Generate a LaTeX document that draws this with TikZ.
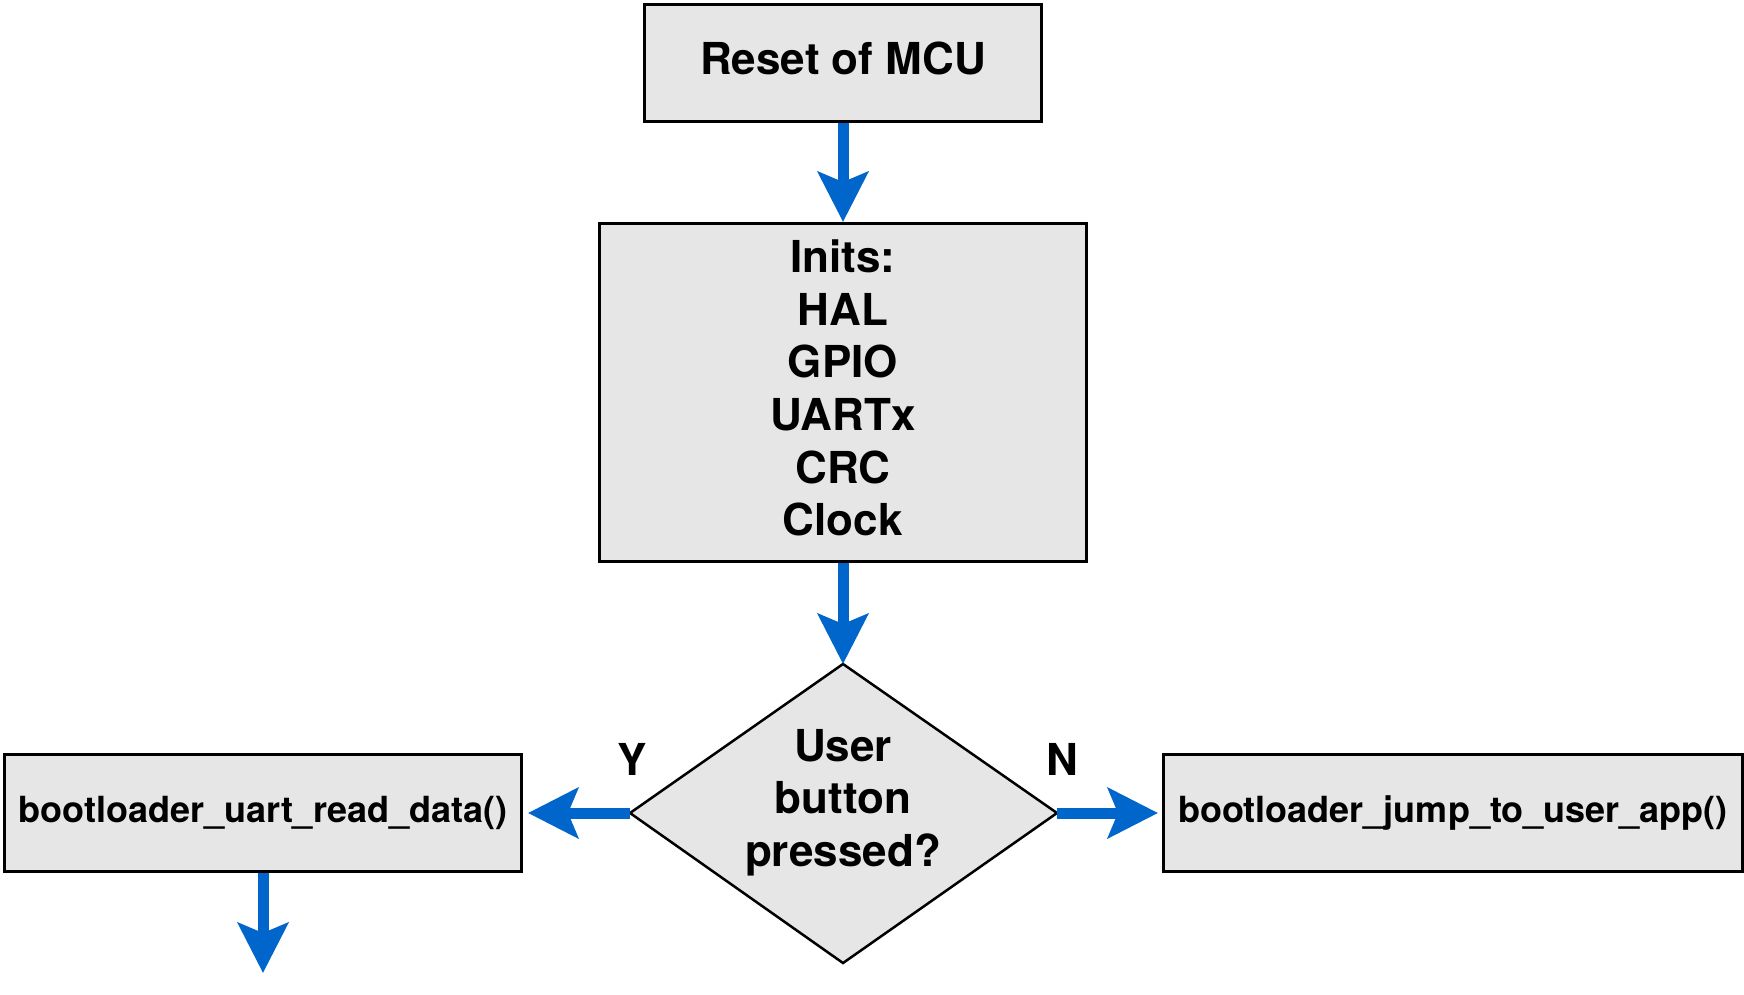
\documentclass[tikz,border=0pt]{standalone}
\usepackage{fontspec}
\setmainfont{TeX Gyre Heros}
\usetikzlibrary{arrows.meta}
\definecolor{arrowblue}{HTML}{0066CC}
\definecolor{boxgray}{HTML}{E6E6E6}
\begin{document}
\begin{tikzpicture}[x=1pt,y=-1pt,
  box/.style={draw=black, line width=3pt, fill=boxgray, inner sep=0pt},
  lbl/.style={inner sep=0pt, align=center, font=\bfseries\fontsize{44}{52.6}\selectfont},
  fnlbl/.style={inner sep=0pt, align=center, font=\bfseries\fontsize{36}{43}\selectfont},
  flow/.style={draw=arrowblue, line width=11pt, -{Stealth[length=50pt,width=50pt,inset=10pt]}}]
\useasboundingbox (0,0) rectangle (1744,994);
\node[box, minimum width=397pt, minimum height=117pt] (reset) at (843,63) {};
\node[lbl] (resettext) at (843,58.5) {Reset of MCU};
\node[box, minimum width=487pt, minimum height=338pt] (inits) at (843,392.5) {};
\node[lbl] (initstext) at (843,388) {Inits:\\HAL\\GPIO\\UARTx\\CRC\\Clock};
\coordinate (dT) at (843,664);
\coordinate (dB) at (843,963);
\coordinate (dL) at (630,813);
\coordinate (dR) at (1057,813);
\draw[line width=2.5pt, fill=boxgray] (dT) -- (dR) -- (dB) -- (dL) -- cycle;
\node[lbl] (dq) at (843,802.5) {User\\button\\pressed?};
\node[box, minimum width=517pt, minimum height=117pt] (readbox) at (263,813) {};
\node[fnlbl] (readtext) at (263,813) {bootloader\_uart\_read\_data()};
\node[box, minimum width=579pt, minimum height=117pt] (jumpbox) at (1453,813) {};
\node[fnlbl] (jumptext) at (1453,813) {bootloader\_jump\_to\_user\_app()};
\node[lbl] (ylab) at (632,759) {Y};
\node[lbl] (nlab) at (1062,759) {N};
\coordinate (tail) at (263,973);
\draw[flow] (reset.south) -- (inits.north);
\draw[flow] (inits.south) -- (dT);
\draw[flow, shorten >=5pt] (dL) -- (readbox.east);
\draw[flow, shorten >=4pt] (dR) -- (jumpbox.west);
\draw[flow] (readbox.south) -- (tail);
\end{tikzpicture}
\end{document}
